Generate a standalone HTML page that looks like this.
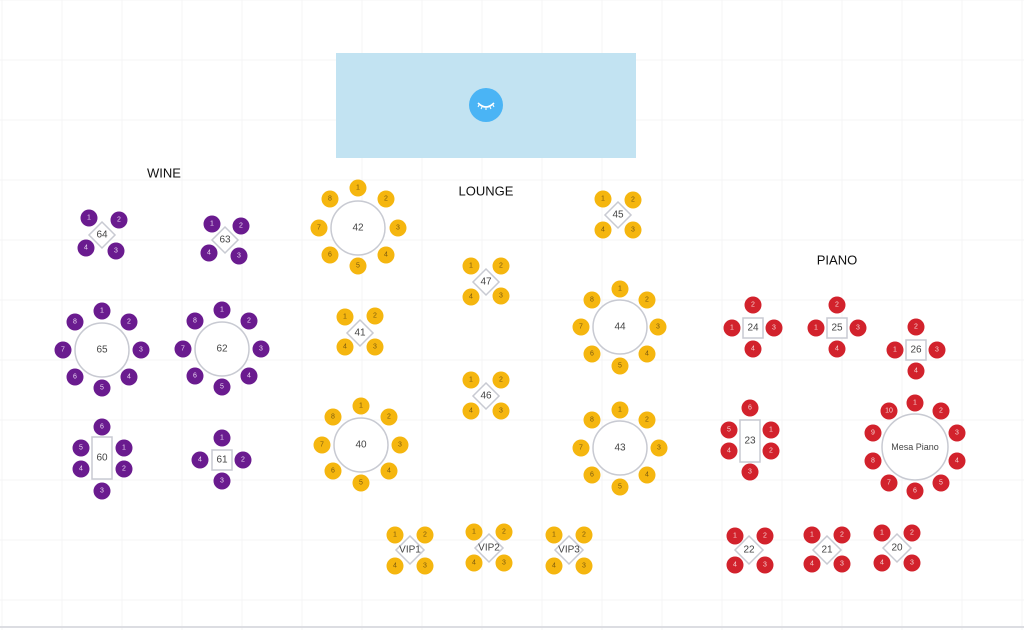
<!DOCTYPE html>
<html><head><meta charset="utf-8"><style>
html,body{margin:0;padding:0;background:#fff;width:1024px;height:630px;overflow:hidden}
svg{display:block}
text{font-family:"Liberation Sans",sans-serif;text-anchor:middle;dominant-baseline:central}
.p circle{fill:#6a1b8f}.p text{fill:#e9d6f2;font-size:7px}
.y circle{fill:#f5b60f}.y text{fill:#7a5a10;font-size:7px}
.r circle{fill:#d2222c}.r text{fill:#f5d0d0;font-size:7px}
svg g .t{fill:#fff;stroke:#c8cad2;stroke-width:1.5}
svg g text.tl{fill:#444;font-size:10px}
.h{fill:#111;font-size:13px}
</style></head><body>
<svg width="1024" height="630" viewBox="0 0 1024 630" xmlns="http://www.w3.org/2000/svg">
<g stroke="#f4f4f6" stroke-width="1">
<line x1="2" y1="0" x2="2" y2="630"/><line x1="62" y1="0" x2="62" y2="630"/><line x1="122" y1="0" x2="122" y2="630"/><line x1="182" y1="0" x2="182" y2="630"/><line x1="242" y1="0" x2="242" y2="630"/><line x1="302" y1="0" x2="302" y2="630"/><line x1="362" y1="0" x2="362" y2="630"/><line x1="422" y1="0" x2="422" y2="630"/><line x1="482" y1="0" x2="482" y2="630"/><line x1="542" y1="0" x2="542" y2="630"/><line x1="602" y1="0" x2="602" y2="630"/><line x1="662" y1="0" x2="662" y2="630"/><line x1="722" y1="0" x2="722" y2="630"/><line x1="782" y1="0" x2="782" y2="630"/><line x1="842" y1="0" x2="842" y2="630"/><line x1="902" y1="0" x2="902" y2="630"/><line x1="962" y1="0" x2="962" y2="630"/><line x1="1022" y1="0" x2="1022" y2="630"/>
<line x1="0" y1="0" x2="1024" y2="0"/><line x1="0" y1="60" x2="1024" y2="60"/><line x1="0" y1="120" x2="1024" y2="120"/><line x1="0" y1="180" x2="1024" y2="180"/><line x1="0" y1="240" x2="1024" y2="240"/><line x1="0" y1="300" x2="1024" y2="300"/><line x1="0" y1="360" x2="1024" y2="360"/><line x1="0" y1="420" x2="1024" y2="420"/><line x1="0" y1="480" x2="1024" y2="480"/><line x1="0" y1="540" x2="1024" y2="540"/><line x1="0" y1="600" x2="1024" y2="600"/>
</g>
<line x1="0" y1="627" x2="1024" y2="627" stroke="#dcdde2" stroke-width="2"/>
<rect x="336" y="53" width="300" height="105" fill="#c2e3f2"/>
<circle cx="486" cy="105" r="17" fill="#4ab4f5"/>
<path d="M478 103 Q486 111 494 103" stroke="#fff" stroke-width="1.6" fill="none"/>
<path d="M479 105 l-1 2 M482 107 l-1 2 M486 108 v2 M490 107 l1 2 M493 105 l1 2" stroke="#fff" stroke-width="1"/>
<text class="h" x="164" y="173">WINE</text>
<text class="h" x="486" y="191">LOUNGE</text>
<text class="h" x="837" y="260">PIANO</text>

<!-- WINE purple -->
<g class="p">
<polygon class="t" points="102,222 115,235 102,248 89,235"/><text class="tl" x="102" y="235">64</text>
<circle cx="89" cy="218" r="8.5"/><text x="89" y="218">1</text><circle cx="119" cy="220" r="8.5"/><text x="119" y="220">2</text><circle cx="86" cy="248" r="8.5"/><text x="86" y="248">4</text><circle cx="116" cy="251" r="8.5"/><text x="116" y="251">3</text>
<polygon class="t" points="225,227 238,240 225,253 212,240"/><text class="tl" x="225" y="240">63</text>
<circle cx="212" cy="224" r="8.5"/><text x="212" y="224">1</text><circle cx="241" cy="226" r="8.5"/><text x="241" y="226">2</text><circle cx="209" cy="253" r="8.5"/><text x="209" y="253">4</text><circle cx="239" cy="256" r="8.5"/><text x="239" y="256">3</text>
<circle class="t" cx="102" cy="350" r="27"/><text class="tl" x="102" y="350">65</text>
<circle cx="102" cy="311" r="8.5"/><text x="102" y="311">1</text><circle cx="129" cy="322" r="8.5"/><text x="129" y="322">2</text><circle cx="141" cy="350" r="8.5"/><text x="141" y="350">3</text><circle cx="129" cy="377" r="8.5"/><text x="129" y="377">4</text><circle cx="102" cy="388" r="8.5"/><text x="102" y="388">5</text><circle cx="75" cy="377" r="8.5"/><text x="75" y="377">6</text><circle cx="63" cy="350" r="8.5"/><text x="63" y="350">7</text><circle cx="75" cy="322" r="8.5"/><text x="75" y="322">8</text>
<circle class="t" cx="222" cy="349" r="27"/><text class="tl" x="222" y="349">62</text>
<circle cx="222" cy="310" r="8.5"/><text x="222" y="310">1</text><circle cx="249" cy="321" r="8.5"/><text x="249" y="321">2</text><circle cx="261" cy="349" r="8.5"/><text x="261" y="349">3</text><circle cx="249" cy="376" r="8.5"/><text x="249" y="376">4</text><circle cx="222" cy="387" r="8.5"/><text x="222" y="387">5</text><circle cx="195" cy="376" r="8.5"/><text x="195" y="376">6</text><circle cx="183" cy="349" r="8.5"/><text x="183" y="349">7</text><circle cx="195" cy="321" r="8.5"/><text x="195" y="321">8</text>
<rect class="t" x="92" y="437" width="20" height="42"/><text class="tl" x="102" y="458">60</text>
<circle cx="102" cy="427" r="8.5"/><text x="102" y="427">6</text><circle cx="81" cy="448" r="8.5"/><text x="81" y="448">5</text><circle cx="81" cy="469" r="8.5"/><text x="81" y="469">4</text><circle cx="124" cy="448" r="8.5"/><text x="124" y="448">1</text><circle cx="124" cy="469" r="8.5"/><text x="124" y="469">2</text><circle cx="102" cy="491" r="8.5"/><text x="102" y="491">3</text>
<rect class="t" x="212" y="450" width="20" height="20"/><text class="tl" x="222" y="460">61</text>
<circle cx="222" cy="438" r="8.5"/><text x="222" y="438">1</text><circle cx="200" cy="460" r="8.5"/><text x="200" y="460">4</text><circle cx="243" cy="460" r="8.5"/><text x="243" y="460">2</text><circle cx="222" cy="481" r="8.5"/><text x="222" y="481">3</text>
</g>

<!-- LOUNGE yellow -->
<g class="y">
<circle class="t" cx="358" cy="228" r="27"/><text class="tl" x="358" y="228">42</text>
<circle cx="358" cy="188" r="8.5"/><text x="358" y="188">1</text><circle cx="386" cy="199" r="8.5"/><text x="386" y="199">2</text><circle cx="398" cy="228" r="8.5"/><text x="398" y="228">3</text><circle cx="386" cy="255" r="8.5"/><text x="386" y="255">4</text><circle cx="358" cy="266" r="8.5"/><text x="358" y="266">5</text><circle cx="330" cy="255" r="8.5"/><text x="330" y="255">6</text><circle cx="319" cy="228" r="8.5"/><text x="319" y="228">7</text><circle cx="330" cy="199" r="8.5"/><text x="330" y="199">8</text>
<polygon class="t" points="360,320 373,333 360,346 347,333"/><text class="tl" x="360" y="333">41</text>
<circle cx="345" cy="317" r="8.5"/><text x="345" y="317">1</text><circle cx="375" cy="316" r="8.5"/><text x="375" y="316">2</text><circle cx="345" cy="347" r="8.5"/><text x="345" y="347">4</text><circle cx="375" cy="347" r="8.5"/><text x="375" y="347">3</text>
<circle class="t" cx="361" cy="445" r="27"/><text class="tl" x="361" y="445">40</text>
<circle cx="361" cy="406" r="8.5"/><text x="361" y="406">1</text><circle cx="389" cy="417" r="8.5"/><text x="389" y="417">2</text><circle cx="400" cy="445" r="8.5"/><text x="400" y="445">3</text><circle cx="389" cy="471" r="8.5"/><text x="389" y="471">4</text><circle cx="361" cy="483" r="8.5"/><text x="361" y="483">5</text><circle cx="333" cy="471" r="8.5"/><text x="333" y="471">6</text><circle cx="322" cy="445" r="8.5"/><text x="322" y="445">7</text><circle cx="333" cy="417" r="8.5"/><text x="333" y="417">8</text>
<polygon class="t" points="486,269 499,282 486,295 473,282"/><text class="tl" x="486" y="282">47</text>
<circle cx="471" cy="266" r="8.5"/><text x="471" y="266">1</text><circle cx="501" cy="266" r="8.5"/><text x="501" y="266">2</text><circle cx="471" cy="297" r="8.5"/><text x="471" y="297">4</text><circle cx="501" cy="296" r="8.5"/><text x="501" y="296">3</text>
<polygon class="t" points="486,383 499,396 486,409 473,396"/><text class="tl" x="486" y="396">46</text>
<circle cx="471" cy="380" r="8.5"/><text x="471" y="380">1</text><circle cx="501" cy="380" r="8.5"/><text x="501" y="380">2</text><circle cx="471" cy="411" r="8.5"/><text x="471" y="411">4</text><circle cx="501" cy="411" r="8.5"/><text x="501" y="411">3</text>
<polygon class="t" points="618,202 631,215 618,228 605,215"/><text class="tl" x="618" y="215">45</text>
<circle cx="603" cy="199" r="8.5"/><text x="603" y="199">1</text><circle cx="633" cy="200" r="8.5"/><text x="633" y="200">2</text><circle cx="603" cy="230" r="8.5"/><text x="603" y="230">4</text><circle cx="633" cy="230" r="8.5"/><text x="633" y="230">3</text>
<circle class="t" cx="620" cy="327" r="27"/><text class="tl" x="620" y="327">44</text>
<circle cx="620" cy="289" r="8.5"/><text x="620" y="289">1</text><circle cx="647" cy="300" r="8.5"/><text x="647" y="300">2</text><circle cx="658" cy="327" r="8.5"/><text x="658" y="327">3</text><circle cx="647" cy="354" r="8.5"/><text x="647" y="354">4</text><circle cx="620" cy="366" r="8.5"/><text x="620" y="366">5</text><circle cx="592" cy="354" r="8.5"/><text x="592" y="354">6</text><circle cx="581" cy="327" r="8.5"/><text x="581" y="327">7</text><circle cx="592" cy="300" r="8.5"/><text x="592" y="300">8</text>
<circle class="t" cx="620" cy="448" r="27"/><text class="tl" x="620" y="448">43</text>
<circle cx="620" cy="410" r="8.5"/><text x="620" y="410">1</text><circle cx="647" cy="420" r="8.5"/><text x="647" y="420">2</text><circle cx="659" cy="448" r="8.5"/><text x="659" y="448">3</text><circle cx="647" cy="475" r="8.5"/><text x="647" y="475">4</text><circle cx="620" cy="487" r="8.5"/><text x="620" y="487">5</text><circle cx="592" cy="475" r="8.5"/><text x="592" y="475">6</text><circle cx="581" cy="448" r="8.5"/><text x="581" y="448">7</text><circle cx="592" cy="420" r="8.5"/><text x="592" y="420">8</text>
<polygon class="t" points="410,536 424,550 410,564 396,550"/><text class="tl" x="410" y="550">VIP1</text>
<circle cx="395" cy="535" r="8.5"/><text x="395" y="535">1</text><circle cx="425" cy="535" r="8.5"/><text x="425" y="535">2</text><circle cx="395" cy="566" r="8.5"/><text x="395" y="566">4</text><circle cx="425" cy="566" r="8.5"/><text x="425" y="566">3</text>
<polygon class="t" points="489,534 503,548 489,562 475,548"/><text class="tl" x="489" y="548">VIP2</text>
<circle cx="474" cy="532" r="8.5"/><text x="474" y="532">1</text><circle cx="504" cy="532" r="8.5"/><text x="504" y="532">2</text><circle cx="474" cy="563" r="8.5"/><text x="474" y="563">4</text><circle cx="504" cy="563" r="8.5"/><text x="504" y="563">3</text>
<polygon class="t" points="569,536 583,550 569,564 555,550"/><text class="tl" x="569" y="550">VIP3</text>
<circle cx="554" cy="535" r="8.5"/><text x="554" y="535">1</text><circle cx="584" cy="535" r="8.5"/><text x="584" y="535">2</text><circle cx="554" cy="566" r="8.5"/><text x="554" y="566">4</text><circle cx="584" cy="566" r="8.5"/><text x="584" y="566">3</text>
</g>

<!-- PIANO red -->
<g class="r">
<rect class="t" x="743" y="318" width="20" height="20"/><text class="tl" x="753" y="328">24</text>
<circle cx="753" cy="305" r="8.5"/><text x="753" y="305">2</text><circle cx="732" cy="328" r="8.5"/><text x="732" y="328">1</text><circle cx="774" cy="328" r="8.5"/><text x="774" y="328">3</text><circle cx="753" cy="349" r="8.5"/><text x="753" y="349">4</text>
<rect class="t" x="827" y="318" width="20" height="20"/><text class="tl" x="837" y="328">25</text>
<circle cx="837" cy="305" r="8.5"/><text x="837" y="305">2</text><circle cx="816" cy="328" r="8.5"/><text x="816" y="328">1</text><circle cx="858" cy="328" r="8.5"/><text x="858" y="328">3</text><circle cx="837" cy="349" r="8.5"/><text x="837" y="349">4</text>
<rect class="t" x="906" y="340" width="20" height="20"/><text class="tl" x="916" y="350">26</text>
<circle cx="916" cy="327" r="8.5"/><text x="916" y="327">2</text><circle cx="895" cy="350" r="8.5"/><text x="895" y="350">1</text><circle cx="937" cy="350" r="8.5"/><text x="937" y="350">3</text><circle cx="916" cy="371" r="8.5"/><text x="916" y="371">4</text>
<rect class="t" x="740" y="420" width="20" height="42"/><text class="tl" x="750" y="441">23</text>
<circle cx="750" cy="408" r="8.5"/><text x="750" y="408">6</text><circle cx="729" cy="430" r="8.5"/><text x="729" y="430">5</text><circle cx="729" cy="451" r="8.5"/><text x="729" y="451">4</text><circle cx="771" cy="430" r="8.5"/><text x="771" y="430">1</text><circle cx="771" cy="451" r="8.5"/><text x="771" y="451">2</text><circle cx="750" cy="472" r="8.5"/><text x="750" y="472">3</text>
<circle class="t" cx="915" cy="447" r="33"/><text class="tl" x="915" y="447" style="font-size:9px">Mesa Piano</text>
<circle cx="915" cy="403" r="8.5"/><text x="915" y="403">1</text><circle cx="941" cy="411" r="8.5"/><text x="941" y="411">2</text><circle cx="957" cy="433" r="8.5"/><text x="957" y="433">3</text><circle cx="957" cy="461" r="8.5"/><text x="957" y="461">4</text><circle cx="941" cy="483" r="8.5"/><text x="941" y="483">5</text><circle cx="915" cy="491" r="8.5"/><text x="915" y="491">6</text><circle cx="889" cy="483" r="8.5"/><text x="889" y="483">7</text><circle cx="873" cy="461" r="8.5"/><text x="873" y="461">8</text><circle cx="873" cy="433" r="8.5"/><text x="873" y="433">9</text><circle cx="889" cy="411" r="8.5"/><text x="889" y="411">10</text>
<polygon class="t" points="749,536 763,550 749,564 735,550"/><text class="tl" x="749" y="550">22</text>
<circle cx="735" cy="536" r="8.5"/><text x="735" y="536">1</text><circle cx="765" cy="536" r="8.5"/><text x="765" y="536">2</text><circle cx="735" cy="565" r="8.5"/><text x="735" y="565">4</text><circle cx="765" cy="565" r="8.5"/><text x="765" y="565">3</text>
<polygon class="t" points="827,536 841,550 827,564 813,550"/><text class="tl" x="827" y="550">21</text>
<circle cx="812" cy="535" r="8.5"/><text x="812" y="535">1</text><circle cx="842" cy="535" r="8.5"/><text x="842" y="535">2</text><circle cx="812" cy="564" r="8.5"/><text x="812" y="564">4</text><circle cx="842" cy="564" r="8.5"/><text x="842" y="564">3</text>
<polygon class="t" points="897,534 911,548 897,562 883,548"/><text class="tl" x="897" y="548">20</text>
<circle cx="882" cy="533" r="8.5"/><text x="882" y="533">1</text><circle cx="912" cy="533" r="8.5"/><text x="912" y="533">2</text><circle cx="882" cy="563" r="8.5"/><text x="882" y="563">4</text><circle cx="912" cy="563" r="8.5"/><text x="912" y="563">3</text>
</g>
</svg>
</body></html>
